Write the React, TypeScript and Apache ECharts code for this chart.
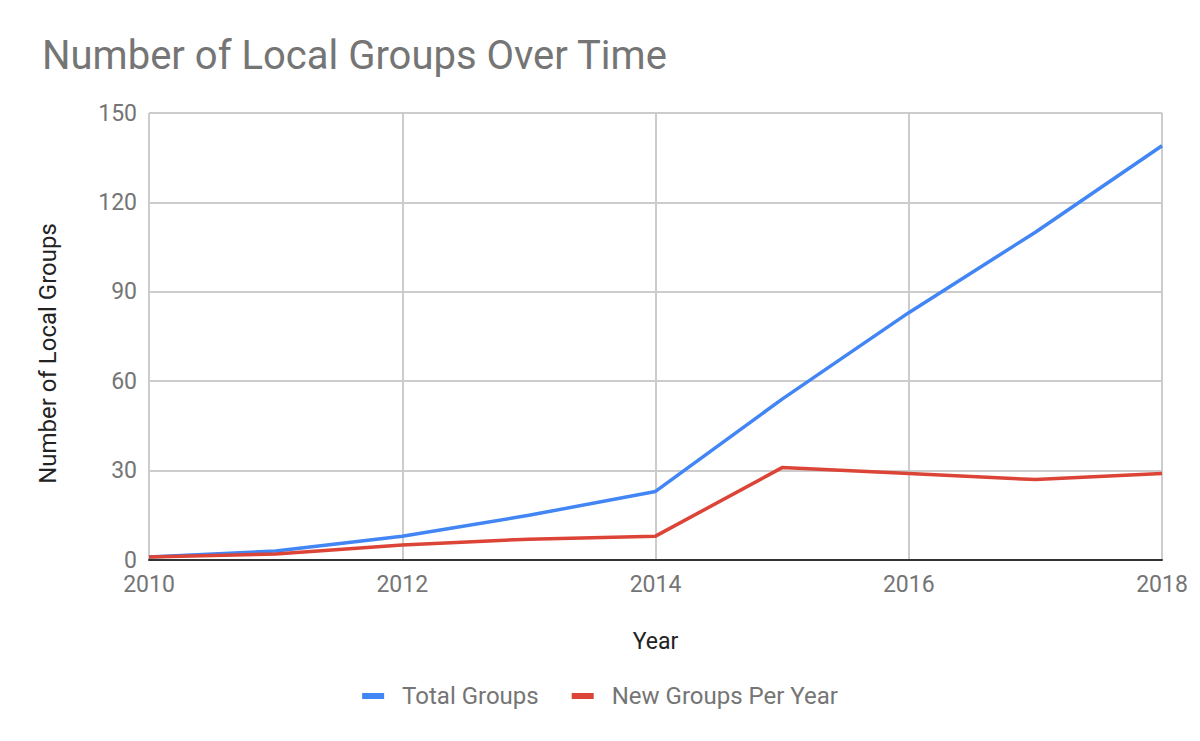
import React, { useEffect, useRef } from "react";
import * as echarts from "echarts";

const years = [2010, 2011, 2012, 2013, 2014, 2015, 2016, 2017, 2018];
const totalGroups = [1, 3, 8, 15, 23, 54, 83, 110, 139];
const newGroups = [1, 2, 5, 7, 8, 31, 29, 27, 29];
const seriesNames = ["Total Groups", "New Groups Per Year"];
const titleText = "Number of Local Groups Over Time";
const xName = "Year";
const yName = "Number of Local Groups";

export default function App() {
  const ref = useRef<HTMLDivElement>(null);
  useEffect(() => {
    if (!ref.current) return;
    const chart = echarts.init(ref.current, undefined, { renderer: "svg" });
    const font = "Roboto";
    chart.setOption({
      animation: false,
      backgroundColor: "#ffffff",
      title: {
        text: titleText,
        left: 37,
        top: 30,
        textStyle: { fontFamily: font, fontSize: 40, fontWeight: "normal", color: "#757575" },
      },
      legend: {
        data: seriesNames,
        left: "center",
        top: 679,
        icon: "rect",
        itemWidth: 22,
        itemHeight: 6,
        itemGap: 33,
        textStyle: { fontFamily: font, fontSize: 24, color: "#757575", padding: [0, 0, 0, 13] },
      },
      grid: { left: 149, right: 38, top: 113, bottom: 181, containLabel: false },
      xAxis: {
        type: "value",
        min: 2010,
        max: 2018,
        interval: 2,
        name: xName,
        nameLocation: "middle",
        nameGap: 70,
        nameTextStyle: { fontFamily: font, fontSize: 23, color: "#222222" },
        axisLine: { show: true, onZero: false, lineStyle: { color: "#333333", width: 2 } },
        axisTick: { show: false },
        axisLabel: {
          fontFamily: font,
          fontSize: 23,
          color: "#757575",
          margin: 13,
          formatter: (v: number) => String(v),
        },
        splitLine: { show: true, lineStyle: { color: "#cccccc", width: 2 } },
      },
      yAxis: {
        type: "value",
        min: 0,
        max: 150,
        interval: 30,
        name: yName,
        nameLocation: "middle",
        nameGap: 89,
        nameTextStyle: { fontFamily: font, fontSize: 24, color: "#222222", padding: [0, 34, 0, 0] },
        axisLine: { show: false },
        axisTick: { show: false },
        axisLabel: { fontFamily: font, fontSize: 23, lineHeight: 18, color: "#757575", margin: 12 },
        splitLine: { show: true, lineStyle: { color: "#cccccc", width: 2 } },
      },
      series: [
        {
          name: seriesNames[0],
          type: "line",
          data: years.map((y, i) => [y, totalGroups[i]]),
          showSymbol: false,
          symbol: "none",
          color: "#4285F4",
          lineStyle: { width: 3.5, color: "#4285F4" },
          z: 3,
        },
        {
          name: seriesNames[1],
          type: "line",
          data: years.map((y, i) => [y, newGroups[i]]),
          showSymbol: false,
          symbol: "none",
          color: "#DB4437",
          lineStyle: { width: 3.5, color: "#DB4437" },
          z: 4,
        },
      ],
    });
    return () => chart.dispose();
  }, []);
  return (
    <div
      ref={ref}
      style={{ position: "fixed", left: 0, top: 0, width: 1200, height: 741, background: "#fff" }}
    />
  );
}
